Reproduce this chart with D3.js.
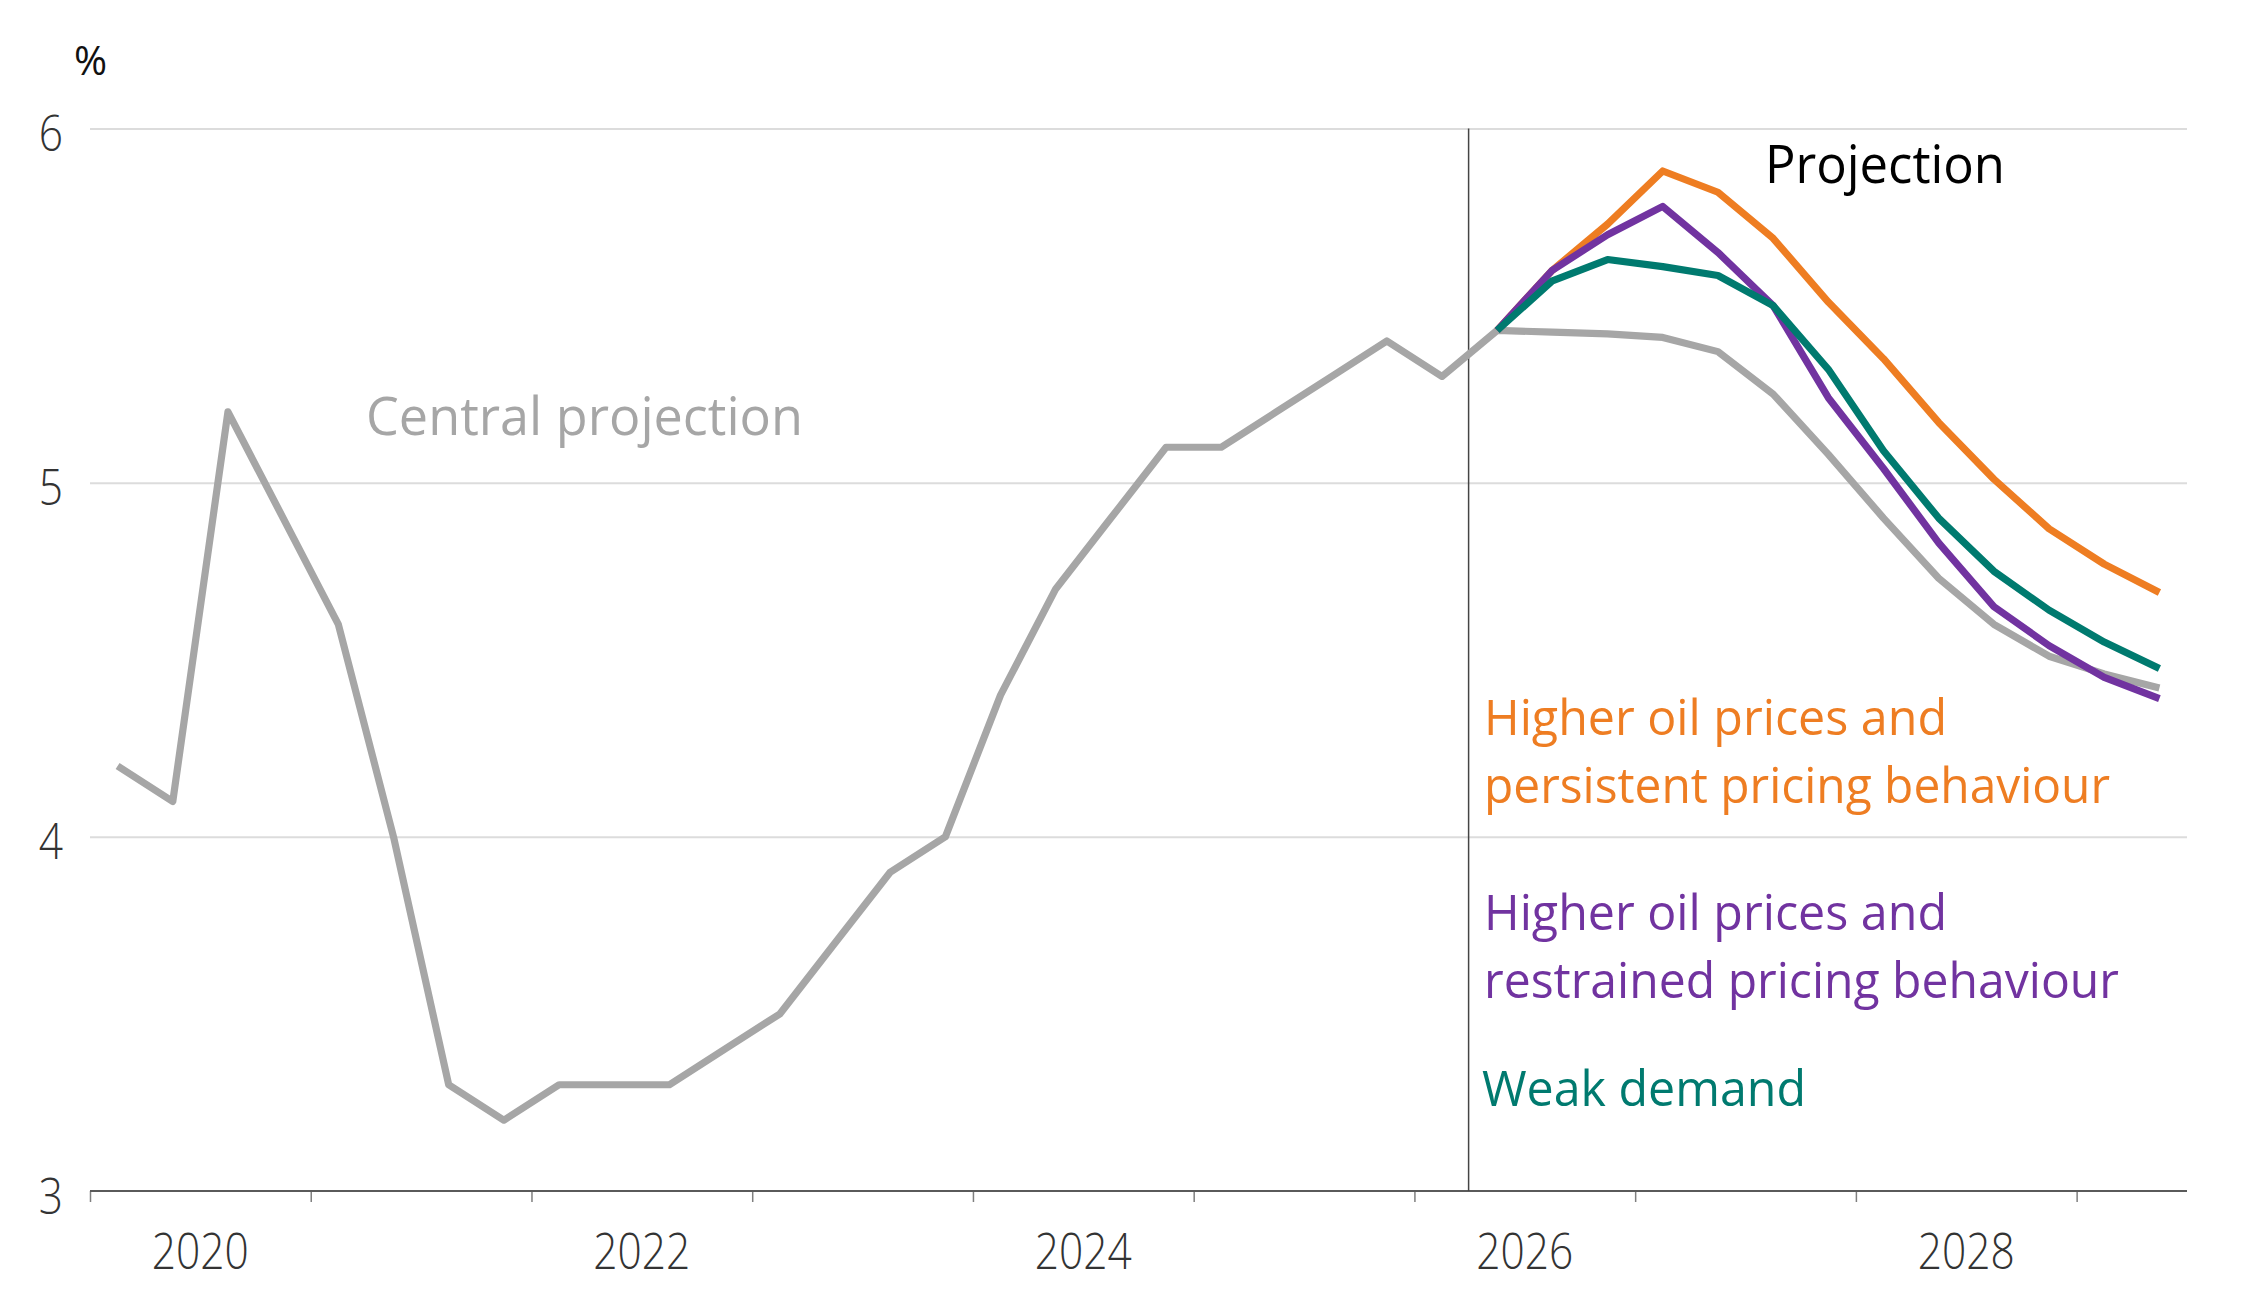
<!DOCTYPE html>
<html>
<head>
<meta charset="utf-8">
<script src="https://cdn.jsdelivr.net/npm/d3@7"></script>
<style>
  html, body { margin: 0; padding: 0; background: #fff; }
  svg { display: block; }
  text { font-family: "Open Sans", "Noto Sans", sans-serif; }
</style>
</head>
<body>
<svg id="chart" width="2244" height="1311"></svg>
<script>
// ---------------- DATA ----------------
const quarters = [
  "2020Q1","2020Q2","2020Q3","2020Q4",
  "2021Q1","2021Q2","2021Q3","2021Q4",
  "2022Q1","2022Q2","2022Q3","2022Q4",
  "2023Q1","2023Q2","2023Q3","2023Q4",
  "2024Q1","2024Q2","2024Q3","2024Q4",
  "2025Q1","2025Q2","2025Q3","2025Q4",
  "2026Q1","2026Q2","2026Q3","2026Q4",
  "2027Q1","2027Q2","2027Q3","2027Q4",
  "2028Q1","2028Q2","2028Q3","2028Q4",
  "2029Q1","2029Q2"
];
const centralValues = [
  4.2, 4.1, 5.2, 4.9,
  4.6, 4.0, 3.3, 3.2,
  3.3, 3.3, 3.3, 3.4,
  3.5, 3.7, 3.9, 4.0,
  4.4, 4.7, 4.9, 5.1,
  5.1, 5.2, 5.3, 5.4,
  5.3, 5.43, 5.425, 5.42,
  5.41, 5.37, 5.25, 5.08,
  4.90, 4.73, 4.60, 4.51,
  4.46, 4.42
];
const projectionQuarters = [
  "2026Q2","2026Q3","2026Q4","2027Q1","2027Q2","2027Q3","2027Q4",
  "2028Q1","2028Q2","2028Q3","2028Q4","2029Q1","2029Q2"
];
const persistentValues = [5.43, 5.60, 5.73, 5.88, 5.82, 5.69, 5.51, 5.35, 5.17, 5.01, 4.87, 4.77, 4.69];
const restrainedValues = [5.43, 5.60, 5.70, 5.78, 5.65, 5.50, 5.24, 5.04, 4.83, 4.65, 4.54, 4.45, 4.39];
const weakDemandValues = [5.43, 5.57, 5.63, 5.61, 5.585, 5.50, 5.32, 5.09, 4.90, 4.75, 4.64, 4.55, 4.475];
const yTicks = [3, 4, 5, 6];
const yearLabels = ["2020", "2022", "2024", "2026", "2028"];
const yearStartQuarters = ["2020Q1","2021Q1","2022Q1","2023Q1","2024Q1","2025Q1","2026Q1","2027Q1","2028Q1","2029Q1"];
const projectionStart = "2026Q2";

// ---------------- LAYOUT ----------------
const plotLeft = 90, plotRight = 2187, plotTop = 128.5, plotBottom = 1191;
const colors = {
  central: "#a6a6a6",
  persistent: "#ee7d22",
  restrained: "#7133a0",
  weak: "#007a6f"
};

const svg = d3.select("#chart");

const x = d3.scaleBand().domain(quarters).range([plotLeft, plotRight]).padding(0);
const xc = q => x(q) + x.bandwidth() / 2;
const y = d3.scaleLinear().domain([3, 6]).range([plotBottom, plotTop]);

// gridlines + y labels
const yAxis = svg.append("g")
  .attr("transform", `translate(${plotLeft},0)`)
  .call(d3.axisLeft(y).tickValues(yTicks).tickSize(-(plotRight - plotLeft)).tickPadding(27).tickFormat(d3.format("d")));
yAxis.select(".domain").remove();
yAxis.selectAll(".tick line").attr("stroke", "#dcdcdc").attr("stroke-width", 2)
  .filter(d => d === 3).remove();
yAxis.selectAll(".tick text")
  .attr("dy", 22)
  .attr("fill", "#333")
  .style("font-size", "50px")
  .style("font-weight", 300)
  .style("font-family", "'Open Sans', sans-serif");

// x axis ticks at year starts (positions from the band scale)
const tickScale = d3.scaleOrdinal().domain(yearStartQuarters).range(yearStartQuarters.map(q => x(q)));
const xAxis = svg.append("g")
  .attr("transform", `translate(0,${plotBottom})`)
  .call(d3.axisBottom(tickScale).tickSize(11).tickFormat(""));
xAxis.select(".domain").remove();
xAxis.selectAll(".tick line").attr("stroke", "#7f7f7f").attr("stroke-width", 1.5);
svg.append("line")
  .attr("x1", plotLeft).attr("x2", plotRight)
  .attr("y1", y(3)).attr("y2", y(3))
  .attr("stroke", "#5a5a5a").attr("stroke-width", 2);

// year labels centred in their year
const yearG = svg.append("g");
yearG.selectAll("text")
  .data(yearLabels)
  .join("text")
  .attr("x", d => (x(d + "Q1") + x(d + "Q4") + x.bandwidth()) / 2)
  .attr("y", 1269)
  .attr("text-anchor", "middle")
  .attr("fill", "#333")
  .style("font-size", "50px")
  .style("font-weight", 300)
  .text(d => d);

// compress axis labels horizontally like the reference
svg.selectAll("g text").each(function () {
  const w = this.getComputedTextLength();
  d3.select(this).attr("textLength", w * 0.85).attr("lengthAdjust", "spacingAndGlyphs");
});

// projection divider
svg.append("line")
  .attr("x1", x(projectionStart) - 1).attr("x2", x(projectionStart) - 1)
  .attr("y1", y(6)).attr("y2", y(3))
  .attr("stroke", "#444").attr("stroke-width", 1.5);

// lines
const line = d3.line().x(d => xc(d.q)).y(d => y(d.v)).curve(d3.curveLinear);
function draw(qs, vals, color) {
  svg.append("path")
    .datum(qs.map((q, i) => ({ q, v: vals[i] })))
    .attr("d", line)
    .attr("fill", "none")
    .attr("stroke", color)
    .attr("stroke-width", 7.2)
    .attr("stroke-linejoin", "round");
}
draw(quarters, centralValues, colors.central);
draw(projectionQuarters, persistentValues, colors.persistent);
draw(projectionQuarters, restrainedValues, colors.restrained);
draw(projectionQuarters, weakDemandValues, colors.weak);

// text labels
function label(txt, px, py, size, color, width) {
  const t = svg.append("text")
    .attr("x", px).attr("y", py)
    .attr("fill", color)
    .style("font-size", size + "px")
    .text(txt);
  if (width) t.attr("textLength", width).attr("lengthAdjust", "spacingAndGlyphs");
  return t;
}
label("%", 74, 75, 40, "#111");
label("Central projection", 366, 435, 53, colors.central, 437);
label("Projection", 1765, 183, 53, "#000", 240);
label("Higher oil prices and", 1484, 735, 49, colors.persistent, 463);
label("persistent pricing behaviour", 1484, 803, 49, colors.persistent, 626);
label("Higher oil prices and", 1484, 930, 49, colors.restrained, 463);
label("restrained pricing behaviour", 1484, 998, 49, colors.restrained, 635);
label("Weak demand", 1482, 1106, 49, colors.weak, 324);
</script>
</body>
</html>
